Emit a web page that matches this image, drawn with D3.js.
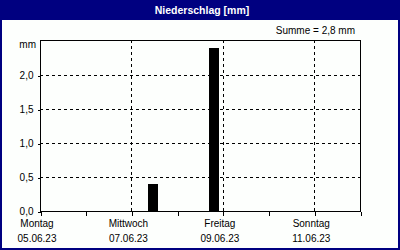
<!DOCTYPE html>
<html><head><meta charset="utf-8">
<script src="https://cdn.jsdelivr.net/npm/d3@7"></script>
<style>
html,body{margin:0;padding:0;background:#fff;}
svg text{font-family:"Liberation Sans",Arial,sans-serif;}
</style></head>
<body><svg id="c" width="400" height="250"></svg>
<script>
const title = "Niederschlag [mm]";
const sumLabel = "Summe = 2,8 mm";
const unitLabel = "mm";
const barTimes = ["2023-06-07T11:20", "2023-06-08T19:10"];
const barValues = [0.4, 2.4];
const yTicks = [0, 0.5, 1.0, 1.5, 2.0];
const xTickDates = ["2023-06-05","2023-06-06","2023-06-07","2023-06-08","2023-06-09","2023-06-10","2023-06-11","2023-06-12"];
const xLabelDates = ["2023-06-05","2023-06-07","2023-06-09","2023-06-11"];
const dayNames = ["Montag","Mittwoch","Freitag","Sonntag"];
const dateLabels = ["05.06.23","07.06.23","09.06.23","11.06.23"];

const parse = d3.isoParse;
const svg = d3.select("#c");
const navy = "#000080";
svg.append("rect").attr("x",0).attr("y",0).attr("width",400).attr("height",250).attr("fill",navy);
svg.append("rect").attr("x",2).attr("y",20).attr("width",396).attr("height",228).attr("fill","#fdfffd");
svg.append("text").attr("x",202).attr("y",14).attr("text-anchor","middle")
  .attr("fill","#fff").attr("font-weight","bold").attr("font-size","10.5px").text(title);

const L=40, R=360, T=40, B=211;
const x = d3.scaleTime().domain([parse("2023-06-05"), parse("2023-06-12")]).range([L,R]);
const y = d3.scaleLinear().domain([0,2.5]).range([B,T+1]);

// grid
const g = svg.append("g");
g.selectAll("line.hg").data(yTicks.filter(v=>v>0)).enter().append("line")
  .attr("x1",L).attr("x2",R).attr("y1",d=>Math.round(y(d))+0.5).attr("y2",d=>Math.round(y(d))+0.5)
  .attr("stroke","#000").attr("stroke-dasharray","3,3").attr("shape-rendering","crispEdges");
g.selectAll("line.vg").data(xLabelDates.slice(1)).enter().append("line")
  .attr("x1",d=>Math.round(x(parse(d)))+0.5).attr("x2",d=>Math.round(x(parse(d)))+0.5)
  .attr("y1",T).attr("y2",B)
  .attr("stroke","#000").attr("stroke-dasharray","3,3").attr("shape-rendering","crispEdges");

// bars
const bw = 10;
svg.selectAll("rect.bar").data(barValues).enter().append("rect")
  .attr("x",(d,i)=>Math.round(x(parse(barTimes[i]))-bw/2))
  .attr("y",d=>Math.round(y(d)))
  .attr("width",bw).attr("height",d=>Math.round(B - y(d)))
  .attr("fill","#000");

// frame: top, left, right, bottom axis
const fr = svg.append("g").attr("stroke","#000").attr("shape-rendering","crispEdges");
fr.append("line").attr("x1",L).attr("x2",R).attr("y1",T+0.5).attr("y2",T+0.5);
fr.append("line").attr("x1",L+0.5).attr("x2",L+0.5).attr("y1",T).attr("y2",B+1);
fr.append("line").attr("x1",R+0.5).attr("x2",R+0.5).attr("y1",T).attr("y2",B+1);

// axes
const yAxis = d3.axisLeft(y).tickValues(yTicks).tickSize(3).tickPadding(4)
  .tickFormat(d=>d3.format(".1f")(d).replace(".",","));
const ya = svg.append("g").attr("transform",`translate(${L+0.5},0.5)`).call(yAxis);
ya.select(".domain").remove();
ya.selectAll("line").attr("stroke","#000").attr("shape-rendering","crispEdges");
ya.selectAll("text").attr("font-size","10px").attr("fill","#000").attr("font-family","Liberation Sans, Arial, sans-serif");

const xAxis = d3.axisBottom(x).tickValues(xTickDates.map(parse)).tickSize(4).tickFormat("");
const xa = svg.append("g").attr("transform",`translate(0.5,${B+0.5})`).call(xAxis);
xa.select(".domain").attr("d",`M${L-0.5},0H${R}`).attr("stroke","#000").attr("shape-rendering","crispEdges");
xa.selectAll("line").attr("stroke","#000").attr("shape-rendering","crispEdges");

const lab = svg.append("g").attr("font-size","10px").attr("text-anchor","middle").attr("fill","#000");
lab.selectAll("text.d").data(xLabelDates).enter().append("text")
  .attr("x",d=>x(parse(d))-3).attr("y",227).text((d,i)=>dayNames[i]);
lab.selectAll("text.t").data(xLabelDates).enter().append("text")
  .attr("x",d=>x(parse(d))-3).attr("y",242).text((d,i)=>dateLabels[i]);

svg.append("text").attr("x",36).attr("y",48).attr("text-anchor","end").attr("font-size","10px").text(unitLabel);
svg.append("text").attr("x",355).attr("y",34).attr("text-anchor","end").attr("font-size","10px").text(sumLabel);
</script></body></html>
